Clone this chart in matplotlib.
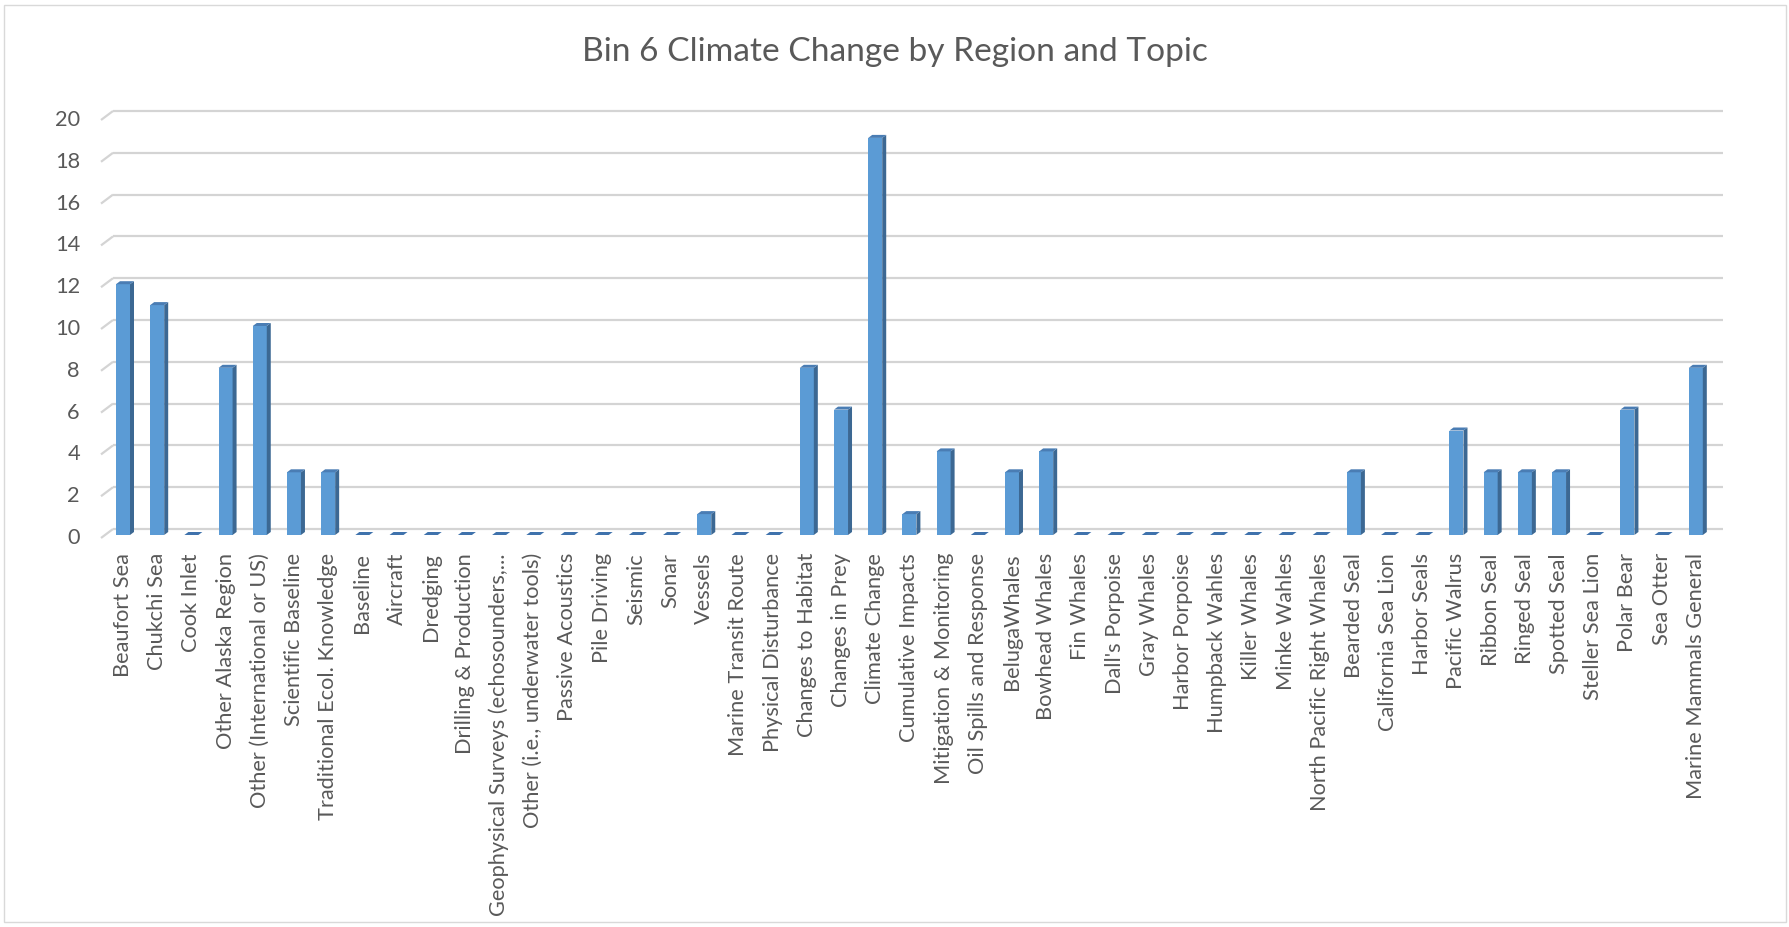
import matplotlib
matplotlib.use("Agg")
import matplotlib.pyplot as plt
from matplotlib.patches import Polygon, Rectangle

categories = [
    "Beaufort Sea", "Chukchi Sea", "Cook Inlet", "Other Alaska Region",
    "Other (International or US)", "Scientific Baseline", "Traditional Ecol. Knowledge",
    "Baseline", "Aircraft", "Dredging", "Drilling & Production",
    "Geophysical Surveys (echosounders,...", "Other (i.e., underwater tools)",
    "Passive Acoustics", "Pile Driving", "Seismic", "Sonar", "Vessels",
    "Marine Transit Route", "Physical Disturbance", "Changes to Habitat",
    "Changes in Prey", "Climate Change", "Cumulative Impacts",
    "Mitigation & Monitoring", "Oil Spills and Response", "BelugaWhales",
    "Bowhead Whales", "Fin Whales", "Dall's Porpoise", "Gray Whales",
    "Harbor Porpoise", "Humpback Wahles", "Killer Whales", "Minke Wahles",
    "North Pacific Right Whales", "Bearded Seal", "California Sea Lion",
    "Harbor Seals", "Pacific Walrus", "Ribbon Seal", "Ringed Seal",
    "Spotted Seal", "Steller Sea Lion", "Polar Bear", "Sea Otter",
    "Marine Mammals General",
]
values = [12, 11, 0, 8, 10, 3, 3, 0, 0, 0, 0, 0, 0, 0, 0, 0, 0, 1, 0, 0, 8, 6, 19,
          1, 4, 0, 3, 4, 0, 0, 0, 0, 0, 0, 0, 0, 3, 0, 0, 5, 3, 3, 3, 0, 6, 0, 8]
yticks = list(range(0, 21, 2))
title = "Bin 6 Climate Change by Region and Topic"

FW, FH = 1789, 927
FAMILY = ["Lato", "DejaVu Sans"]
TXT = "#595959"

fig = plt.figure(figsize=(FW / 100, FH / 100), dpi=100)
fig.patch.set_facecolor("white")

# back wall in pixels
left_px, right_px, top_px, bot_px = 113, 1720, 111, 529
ax = fig.add_axes([left_px / FW, (FH - bot_px) / FH,
                   (right_px - left_px) / FW, (bot_px - top_px) / FH])
n = len(categories)
ax.set_xlim(-0.5, n - 0.5)
ax.set_ylim(0, 20)
ax.axis("off")

cx = n / (right_px - left_px)       # category units per pixel
cy = 20 / (bot_px - top_px)         # value units per pixel

floor_dx, floor_dy = -12 * cx, -9 * cy
bar_x0, bar_w = 3 * cx, 14 * cx
bar_dy = -6 * cy
dep_dx, dep_dy = 4 * cx, 3 * cy

renderer = fig.canvas.get_renderer()


def fit_size(text, target_px):
    t = fig.text(0, 0, text, fontsize=10, family=FAMILY)
    bb = t.get_window_extent(renderer)
    t.remove()
    return 10 * target_px / bb.width


lab_fs = fit_size("Traditional Ecol. Knowledge", 268)
title_fs = fit_size(title, 625)

# gridlines
GRID = "#D4D4D4"
for v in yticks:
    ax.plot([-0.5 + floor_dx, -0.5], [v + floor_dy, v], color=GRID,
            lw=1.6, solid_capstyle="butt", clip_on=False, zorder=1)
    ax.plot([-0.5, n - 0.5 + 3 * cx], [v, v], color=GRID,
            lw=1.6, solid_capstyle="butt", clip_on=False, zorder=1)
    ax.text(-0.5 + (80 - left_px) * cx, v + floor_dy, str(v), ha="right",
            va="center", fontsize=lab_fs, family=FAMILY, color=TXT)

FRONT, SIDE, TOP = "#5B9BD5", "#3C6893", "#4A7DB4"

xs = [i - 0.5 + bar_x0 for i in range(n)]
ax.bar(xs, values, width=bar_w, bottom=bar_dy, align="edge", color=FRONT,
       edgecolor="none", zorder=3, clip_on=False)
for x0, v in zip(xs, values):
    y0 = bar_dy
    y1 = v + bar_dy
    if v > 0:
        side = Polygon([(x0 + bar_w, y0), (x0 + bar_w + dep_dx, y0 + dep_dy),
                        (x0 + bar_w + dep_dx, y1 + dep_dy), (x0 + bar_w, y1)],
                       closed=True, facecolor=SIDE, edgecolor="none",
                       zorder=3, clip_on=False)
        ax.add_patch(side)
    top = Polygon([(x0, y1), (x0 + bar_w, y1), (x0 + bar_w + dep_dx, y1 + dep_dy),
                   (x0 + dep_dx, y1 + dep_dy)], closed=True,
                  facecolor=TOP if v > 0 else "#3F72AC", edgecolor="none",
                  zorder=4, clip_on=False)
    ax.add_patch(top)

for i, (x0, cat) in enumerate(zip(xs, categories)):
    ax.text(x0 + bar_w / 2, -(553 - bot_px) * cy, cat, rotation=90,
            ha="center", va="top", fontsize=lab_fs, family=FAMILY, color=TXT)

fig.text(0.5, 1 - 61 / FH, title, ha="center", va="baseline",
         fontsize=title_fs, family=FAMILY, color=TXT)

fig.add_artist(Rectangle((4 / FW, 5 / FH), (1786 - 4) / FW, (922 - 5) / FH,
                         transform=fig.transFigure, fill=False,
                         edgecolor="#D9D9D9", lw=1.0))

fig.savefig("out.png", dpi=100, facecolor="white")
